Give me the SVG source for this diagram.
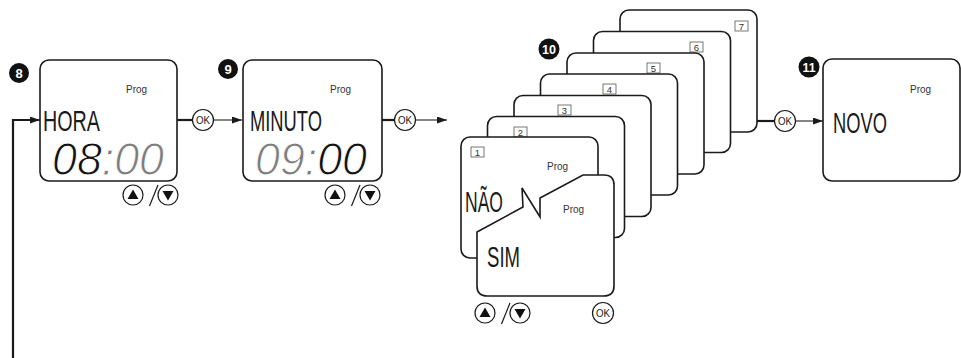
<svg xmlns="http://www.w3.org/2000/svg" xmlns:xlink="http://www.w3.org/1999/xlink" width="961" height="358" viewBox="0 0 961 358">
<style>
.box{fill:#fff;stroke:#1a1a1a;stroke-width:1.6}
.big{font-family:"Liberation Sans",Arial,sans-serif;font-size:29px;fill:#1a1a1a}
.prog{font-family:"Liberation Sans",Arial,sans-serif;font-size:10.5px;fill:#333}
.num{font-family:"Liberation Sans",Arial,sans-serif;font-size:9.5px;fill:#333;text-anchor:middle}
.nbox{fill:#fff;stroke:#555;stroke-width:0.8}
.badge{fill:#111}
.btxt{font-family:"Liberation Sans",Arial,sans-serif;font-weight:bold;font-size:13px;fill:#fff;text-anchor:middle}
.seg{font-family:"Liberation Sans",Arial,sans-serif;font-style:italic;font-size:46px;stroke:#fff;stroke-width:1}
.dark{fill:#111}
.grey{fill:#7d7d7d}
.thick{fill:none;stroke:#1a1a1a;stroke-width:2.2}
.thin{fill:none;stroke:#333;stroke-width:1.2}
.btn{fill:#fff;stroke:#1a1a1a;stroke-width:1.2}
.ok{font-family:"Liberation Sans",Arial,sans-serif;font-size:10.5px;fill:#1a1a1a;text-anchor:middle}
</style>
<defs>
<marker id="arr" markerUnits="userSpaceOnUse" markerWidth="11" markerHeight="8" refX="10" refY="3.5" orient="auto">
<path d="M0,0 L10,3.5 L0,7 Z" fill="#1a1a1a"/>
</marker>
<g id="updown">
<circle class="btn" cx="0" cy="0" r="10"/>
<polygon points="0,-5.5 -5.5,4 5.5,4" fill="#111"/>
<line x1="16.5" y1="11" x2="25" y2="-10" stroke="#1a1a1a" stroke-width="1.2"/>
<circle class="btn" cx="35" cy="0" r="10"/>
<polygon points="29.5,-4 40.5,-4 35,5.5" fill="#111"/>
</g>
<g id="okbtn">
<circle class="btn" cx="0" cy="0" r="10.5"/>
<text class="ok" x="0" y="3.8" textLength="14" lengthAdjust="spacingAndGlyphs">OK</text>
</g>
</defs>

<g id="connectors">
<path class="thick" d="M13,358 V120 H30"/>
<line x1="29" y1="120" x2="40" y2="120" stroke="#1a1a1a" stroke-width="1.6" marker-end="url(#arr)"/>
<line class="thick" x1="177" y1="120" x2="193" y2="120"/>
<line class="thin" x1="213.5" y1="120" x2="242" y2="120" marker-end="url(#arr)"/>
<use xlink:href="#okbtn" x="203" y="120"/>
<line class="thick" x1="382" y1="120" x2="395" y2="120"/>
<line class="thin" x1="415.5" y1="120" x2="447" y2="120" marker-end="url(#arr)"/>
<use xlink:href="#okbtn" x="405" y="120"/>
<line class="thick" x1="757" y1="121" x2="775" y2="121"/>
<line class="thin" x1="795.5" y1="121" x2="823" y2="121" marker-end="url(#arr)"/>
<use xlink:href="#okbtn" x="785" y="121"/>
</g>

<g id="step8">
<circle class="badge" cx="19" cy="73" r="10"/>
<text class="btxt" x="19" y="77.5">8</text>
<rect class="box" x="40" y="60" width="137" height="121" rx="9"/>
<text class="prog" x="126" y="93" textLength="21" lengthAdjust="spacingAndGlyphs">Prog</text>
<text class="big" x="43" y="131" textLength="57" lengthAdjust="spacingAndGlyphs">HORA</text>
<text class="seg" x="52" y="174.5" textLength="112" lengthAdjust="spacingAndGlyphs"><tspan class="dark">08</tspan><tspan class="grey">:00</tspan></text>
<use xlink:href="#updown" x="133" y="195"/>
</g>

<g id="step9">
<circle class="badge" cx="228" cy="69" r="10"/>
<text class="btxt" x="228" y="73.5">9</text>
<rect class="box" x="243" y="60" width="139" height="121" rx="9"/>
<text class="prog" x="330" y="93" textLength="21" lengthAdjust="spacingAndGlyphs">Prog</text>
<text class="big" x="250" y="131" textLength="72" lengthAdjust="spacingAndGlyphs">MINUTO</text>
<text class="seg" x="255" y="175" textLength="112" lengthAdjust="spacingAndGlyphs"><tspan class="grey">09:</tspan><tspan class="dark">00</tspan></text>
<use xlink:href="#updown" x="335" y="195"/>
</g>

<g id="step10">
<circle class="badge" cx="549" cy="49" r="10.5"/>
<text class="btxt" x="549" y="53.5" textLength="14" lengthAdjust="spacingAndGlyphs">10</text>
<g id="card7"><rect class="box" x="620" y="10" width="137" height="122" rx="9"/><rect class="nbox" x="735" y="21" width="13" height="10"/><text class="num" x="741.5" y="29.5">7</text></g>
<g id="card6"><rect class="box" x="593.5" y="31.5" width="137" height="121" rx="9"/><rect class="nbox" x="690" y="42" width="13" height="10"/><text class="num" x="696.5" y="50.5">6</text></g>
<g id="card5"><rect class="box" x="567" y="53" width="137" height="121" rx="9"/><rect class="nbox" x="647" y="63" width="13" height="10"/><text class="num" x="653.5" y="71.5">5</text></g>
<g id="card4"><rect class="box" x="540.5" y="74" width="137" height="121" rx="9"/><rect class="nbox" x="603" y="84" width="13" height="10"/><text class="num" x="609.5" y="92.5">4</text></g>
<g id="card3"><rect class="box" x="514" y="95.5" width="137" height="121" rx="9"/><rect class="nbox" x="558" y="105" width="13" height="10"/><text class="num" x="564.5" y="113.5">3</text></g>
<g id="card2"><rect class="box" x="487.5" y="116.5" width="137" height="121" rx="9"/><rect class="nbox" x="514" y="127" width="13" height="10"/><text class="num" x="520.5" y="135.5">2</text></g>
<g id="card1"><rect class="box" x="461" y="137" width="137" height="121" rx="9"/><rect class="nbox" x="471" y="147" width="13" height="10"/><text class="num" x="477.5" y="155.5">1</text>
<text class="prog" x="547" y="170" textLength="21" lengthAdjust="spacingAndGlyphs">Prog</text>
<text class="big" x="465" y="212" textLength="38" lengthAdjust="spacingAndGlyphs">NÃO</text></g>
<g id="sim">
<path class="box" d="M477,232 L523,207 L522,188 L540,217 L540,198 L583,175 L604,175 Q614,175 614,185 L614,286 Q614,296 604,296 L487,296 Q477,296 477,286 Z"/>
<text class="prog" x="563" y="213" textLength="21" lengthAdjust="spacingAndGlyphs">Prog</text>
<text class="big" x="487" y="267" textLength="33" lengthAdjust="spacingAndGlyphs">SIM</text>
</g>
<use xlink:href="#updown" x="485" y="313"/>
<use xlink:href="#okbtn" x="603" y="313"/>
</g>

<g id="step11">
<rect class="box" x="823" y="59" width="137" height="122" rx="9"/>
<circle class="badge" cx="809" cy="67" r="10.5"/>
<text class="btxt" x="809" y="71.5" textLength="13" lengthAdjust="spacingAndGlyphs">11</text>
<text class="prog" x="910" y="93" textLength="21" lengthAdjust="spacingAndGlyphs">Prog</text>
<text class="big" x="833" y="133" textLength="54" lengthAdjust="spacingAndGlyphs">NOVO</text>
</g>
</svg>
